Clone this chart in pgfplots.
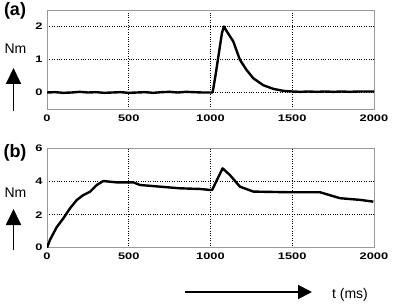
\documentclass[border=0pt]{standalone}
\usepackage{pgfplots}
\pgfplotsset{compat=1.18}
\usepackage{fontspec}
\setmainfont{Liberation Sans}
\newfontfamily\tickfont{Liberation Sans}[FakeStretch=1.35]
\usetikzlibrary{arrows.meta}
\begin{document}
\begin{tikzpicture}
\useasboundingbox (0pt,0pt) rectangle (397pt,306pt);
\pgfplotsset{
  panel/.style={
    scale only axis, width=327pt, height=99pt,
    anchor=south west,
    xmin=0, xmax=2000, xtick={0,500,1000,1500,2000},
    grid=major,
    major grid style={black, dotted, line width=0.6pt},
    axis line style={gray!80, line width=0.8pt},
    major tick length=0pt,
    tick style={draw=none},
    /pgf/number format/assume math mode=true,
    /pgf/number format/1000 sep={},
    ticklabel style={font=\tickfont\bfseries\fontsize{9.5}{9.5}\selectfont},
    xticklabel style={yshift=-2pt},
    yticklabel style={xshift=-1pt},
  }
}
\begin{axis}[panel, at={(47pt,197pt)}, ymin=-0.5, ymax=2.5, ytick={0,1,2}]
\addplot[black, line width=2.4pt, line join=round] coordinates {
(0,0.0) (50,0.01) (100,-0.01) (150,0.0) (200,0.02) (250,0.0) (300,0.01) (350,-0.01) (400,0.0) (450,0.01) (500,-0.01) (550,0.0) (600,0.01) (650,-0.01) (700,0.01) (750,0.02) (800,0.0) (850,0.02) (900,0.01) (950,0.0) (1000,0.0) (1013,0.0)
(1030,0.5) (1050,1.15) (1070,1.8) (1082,2.0) (1100,1.85) (1139,1.55) (1180,0.99) (1221,0.68) (1262,0.43) (1323,0.22) (1384,0.11) (1445,0.05) (1500,0.03) (1550,0.02) (1600,0.03) (1650,0.02) (1700,0.03) (1750,0.02) (1800,0.03) (1850,0.02) (1900,0.03) (1950,0.03) (2000,0.03)
};
\end{axis}
\begin{axis}[panel, at={(47pt,58.3pt)}, ymin=0, ymax=6, ytick={0,2,4,6}]
\addplot[black, line width=2.4pt, line join=round] coordinates {
(0,0) (18,0.47) (59,1.24) (100,1.78) (141,2.39) (182,2.89) (222,3.19) (263,3.39) (304,3.8) (344,4.04) (425,3.96) (528,3.96) (569,3.8) (691,3.7) (813,3.6) (936,3.56) (997,3.5) (1010,3.5)
(1074,4.81) (1119,4.4) (1180,3.7) (1262,3.4) (1486,3.36) (1670,3.36) (1792,3.0) (1914,2.9) (1996,2.79)
};
\end{axis}
% annotations
\node[font=\bfseries\fontsize{18}{18}\selectfont] at (15pt,295pt) {(a)};
\node[font=\bfseries\fontsize{18}{18}\selectfont] at (15pt,153pt) {(b)};
\node[font=\fontsize{14}{14}\selectfont] at (15.5pt,257pt) {Nm};
\node[font=\fontsize{14}{14}\selectfont] at (15.5pt,113pt) {Nm};
\draw[line width=1.8pt, -{Triangle[length=16pt,width=15pt]}] (13.5pt,195pt) -- (13.5pt,238pt);
\draw[line width=1.8pt, -{Triangle[length=16pt,width=15pt]}] (13.5pt,56pt) -- (13.5pt,97pt);
\draw[line width=1.8pt, -{Triangle[length=14pt,width=14pt]}] (185pt,14pt) -- (312pt,14pt);
\node[font=\fontsize{14}{14}\selectfont] at (350pt,11pt) {t (ms)};
\end{tikzpicture}
\end{document}
